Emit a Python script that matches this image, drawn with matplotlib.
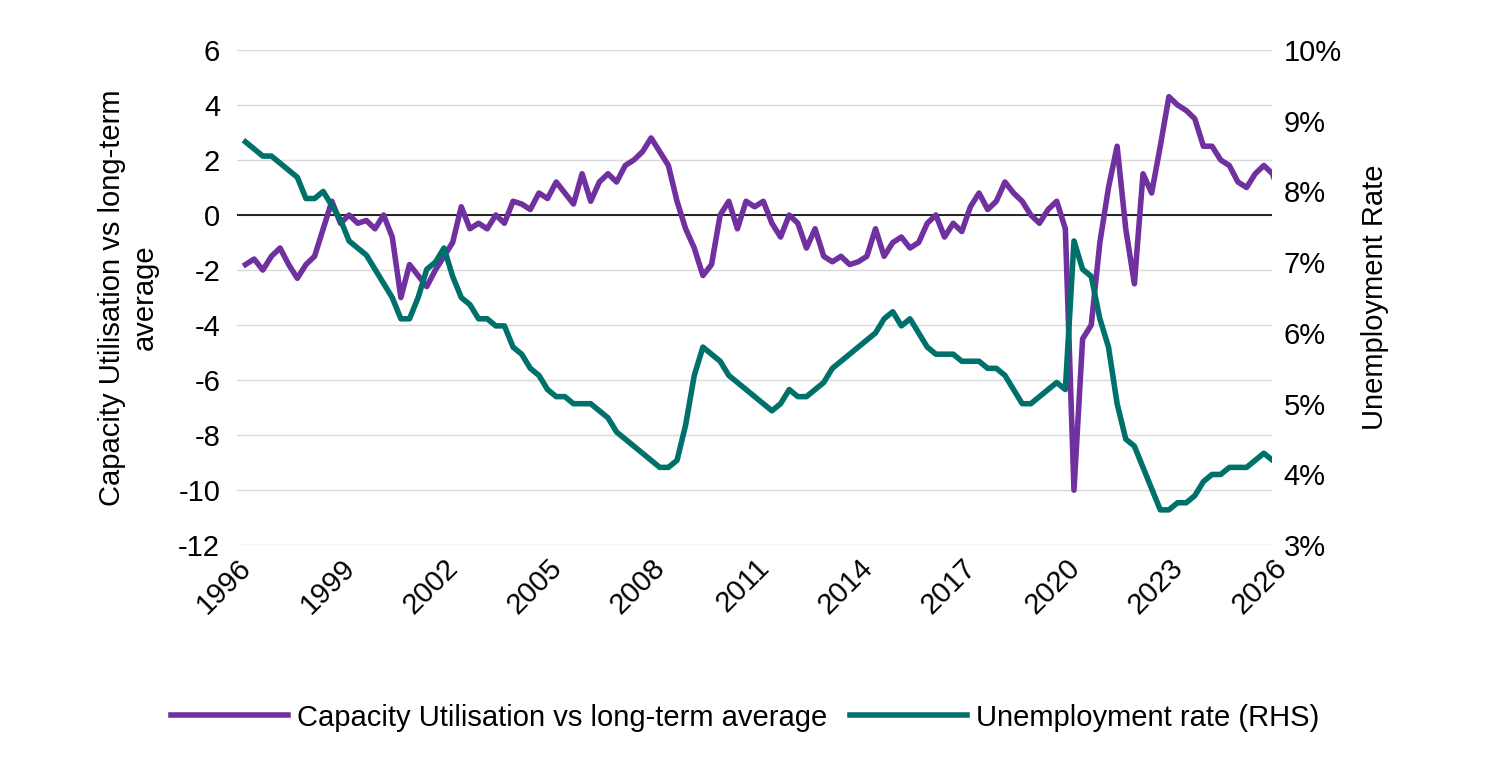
import numpy as np
import matplotlib.pyplot as plt

plt.rcParams['font.family'] = ['Liberation Sans', 'DejaVu Sans']
plt.rcParams['axes.unicode_minus'] = False

# quarterly points starting 1996 Q2
start_year = 1996.25
capacity = [
    -1.8, -1.6, -2.0,
    -1.5, -1.2, -1.8, -2.3,
    -1.8, -1.5, -0.5, 0.5,
    -0.3, 0.0, -0.3, -0.2,
    -0.5, 0.0, -0.8, -3.0,
    -1.8, -2.2, -2.6, -2.0,
    -1.5, -1.0, 0.3, -0.5,
    -0.3, -0.5, 0.0, -0.3,
    0.5, 0.4, 0.2, 0.8,
    0.6, 1.2, 0.8, 0.4,
    1.5, 0.5, 1.2, 1.5,
    1.2, 1.8, 2.0, 2.3,
    2.8, 2.3, 1.8, 0.5,
    -0.5, -1.2, -2.2, -1.8,
    0.0, 0.5, -0.5, 0.5,
    0.3, 0.5, -0.3, -0.8,
    0.0, -0.3, -1.2, -0.5,
    -1.5, -1.7, -1.5, -1.8,
    -1.7, -1.5, -0.5, -1.5,
    -1.0, -0.8, -1.2, -1.0,
    -0.3, 0.0, -0.8, -0.3,
    -0.6, 0.3, 0.8, 0.2,
    0.5, 1.2, 0.8, 0.5,
    0.0, -0.3, 0.2, 0.5,
    -0.5, -10.0, -4.5, -4.0,
    -1.0, 1.0, 2.5, -0.5,
    -2.5, 1.5, 0.8, 2.5,
    4.3, 4.0, 3.8, 3.5,
    2.5, 2.5, 2.0, 1.8,
    1.2, 1.0, 1.5, 1.8,
    1.5, 0.6,
]
unemployment = [
    8.7, 8.6, 8.5,
    8.5, 8.4, 8.3, 8.2,
    7.9, 7.9, 8.0, 7.8,
    7.6, 7.3, 7.2, 7.1,
    6.9, 6.7, 6.5, 6.2,
    6.2, 6.5, 6.9, 7.0,
    7.2, 6.8, 6.5, 6.4,
    6.2, 6.2, 6.1, 6.1,
    5.8, 5.7, 5.5, 5.4,
    5.2, 5.1, 5.1, 5.0,
    5.0, 5.0, 4.9, 4.8,
    4.6, 4.5, 4.4, 4.3,
    4.2, 4.1, 4.1, 4.2,
    4.7, 5.4, 5.8, 5.7,
    5.6, 5.4, 5.3, 5.2,
    5.1, 5.0, 4.9, 5.0,
    5.2, 5.1, 5.1, 5.2,
    5.3, 5.5, 5.6, 5.7,
    5.8, 5.9, 6.0, 6.2,
    6.3, 6.1, 6.2, 6.0,
    5.8, 5.7, 5.7, 5.7,
    5.6, 5.6, 5.6, 5.5,
    5.5, 5.4, 5.2, 5.0,
    5.0, 5.1, 5.2, 5.3,
    5.2, 7.3, 6.9, 6.8,
    6.2, 5.8, 5.0, 4.5,
    4.4, 4.1, 3.8, 3.5,
    3.5, 3.6, 3.6, 3.7,
    3.9, 4.0, 4.0, 4.1,
    4.1, 4.1, 4.2, 4.3,
    4.2, 4.3, 4.5,
]
year_ticks = list(range(1996, 2027, 3))

x_cap = start_year + np.arange(len(capacity)) * 0.25
x_un = start_year + np.arange(len(unemployment)) * 0.25

purple = '#7030A0'
teal = '#00706B'
fs = 21

fig = plt.figure(figsize=(14.9, 7.8), dpi=100)
ax = fig.add_axes([0.159, 0.301, 0.695, 0.635])
ax2 = ax.twinx()

l1, = ax.plot(x_cap, capacity, color=purple, lw=4, zorder=3,
              label='Capacity Utilisation vs long-term average')
l2, = ax2.plot(x_un, unemployment, color=teal, lw=4, zorder=3,
               label='Unemployment rate (RHS)')

ax.set_xlim(1996, 2026)
ax.set_ylim(-12, 6)
ax.set_yticks(range(-12, 7, 2))
ax2.set_ylim(3, 10)
ax2.set_yticks(range(3, 11))
ax2.set_yticklabels([f'{v}%' for v in range(3, 11)])
ax.set_xticks(year_ticks)
ax.set_xticklabels([str(y) for y in year_ticks], rotation=45, ha='right',
                   rotation_mode='anchor')

ax.yaxis.grid(True, color='#d9d9d9', lw=1)
ax.set_axisbelow(True)
ax.axhline(0, color='black', lw=1.2, zorder=2)

for a in (ax, ax2):
    for s in a.spines.values():
        s.set_visible(False)
    a.tick_params(length=0, labelsize=fs)
ax.tick_params(axis='x', pad=6)
ax.tick_params(axis='y', pad=12)
ax2.tick_params(axis='y', pad=8)

ax.set_ylabel('Capacity Utilisation vs long-term\naverage', fontsize=fs,
              labelpad=14)
ax2.set_ylabel('Unemployment Rate', fontsize=fs, labelpad=14)

fig.legend(handles=[l1, l2], loc='center', bbox_to_anchor=(0.5, 0.08),
           ncol=2, frameon=False, fontsize=fs, handlelength=4,
           columnspacing=0.8, handletextpad=0.3)

fig.savefig('out.png', dpi=100)
